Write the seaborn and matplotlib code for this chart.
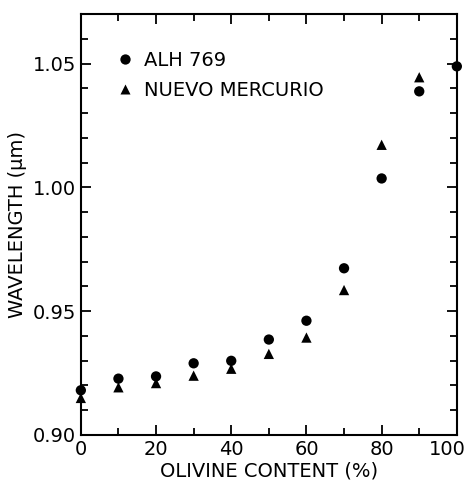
import numpy as np
import pandas as pd
import matplotlib
matplotlib.use("Agg")
import matplotlib.pyplot as plt
import matplotlib.transforms as mtransforms
import seaborn as sns
from matplotlib.ticker import MultipleLocator

# olivine content (%) and band-centre wavelength (um)
olivine = [0, 10, 20, 30, 40, 50, 60, 70, 80, 90, 100]
alh_769 = [0.918, 0.9227, 0.9236, 0.9289, 0.9299, 0.9385, 0.9461, 0.9673, 1.0036, 1.0388, 1.0489]
olivine_nm = [0, 10, 20, 30, 40, 50, 60, 70, 80, 90]
nuevo_mercurio = [0.9149, 0.9192, 0.9209, 0.9239, 0.9267, 0.9327, 0.9393, 0.9585, 1.0172, 1.0445]

df = pd.concat([
    pd.DataFrame({"olivine": olivine, "wavelength": alh_769, "sample": "ALH 769"}),
    pd.DataFrame({"olivine": olivine_nm, "wavelength": nuevo_mercurio, "sample": "NUEVO MERCURIO"}),
])

sns.set_style("ticks")
plt.rcParams["font.family"] = ["DejaVu Sans"]
plt.rcParams.update({"text.color": "black", "axes.labelcolor": "black",
                     "xtick.color": "black", "ytick.color": "black"})

fig = plt.figure(figsize=(4.7, 4.88), dpi=100)
ax = fig.add_axes([0.172, 0.109, 0.8, 0.862])

sns.scatterplot(data=df, x="olivine", y="wavelength", style="sample",
                markers={"ALH 769": "o", "NUEVO MERCURIO": "^"},
                color="black", s=55, edgecolor="none", clip_on=False, ax=ax)

ax.set_xlim(0, 100)
ax.set_ylim(0.90, 1.07)
ax.set_xticks([0, 20, 40, 60, 80, 100])
ax.xaxis.set_minor_locator(MultipleLocator(10))
ax.set_yticks([0.90, 0.95, 1.00, 1.05])
ax.set_yticklabels(["0.90", "0.95", "1.00", "1.05"])
ax.yaxis.set_minor_locator(MultipleLocator(0.01))
ax.tick_params(which="both", direction="in", top=True, right=True,
               labelsize=14, width=1.3, color="black")
ax.tick_params(which="major", length=7)
ax.tick_params(which="minor", length=5)
for sp in ax.spines.values():
    sp.set_linewidth(1.5)
    sp.set_color("black")

# keep the "100" label inside the figure edge
last = ax.get_xticklabels()[-1]
last.set_transform(last.get_transform() + mtransforms.ScaledTranslation(-7 / 72, 0, fig.dpi_scale_trans))

ax.set_xlabel("OLIVINE CONTENT (%)", fontsize=14, labelpad=2)
ax.set_ylabel("WAVELENGTH (\u03bcm)", fontsize=14, labelpad=4)

leg = ax.legend(loc="upper left", bbox_to_anchor=(0.04, 0.955), frameon=False,
                fontsize=14, handletextpad=0.35, handlelength=1.2,
                labelspacing=0.6, title=None)

fig.savefig("out.png", dpi=100)
